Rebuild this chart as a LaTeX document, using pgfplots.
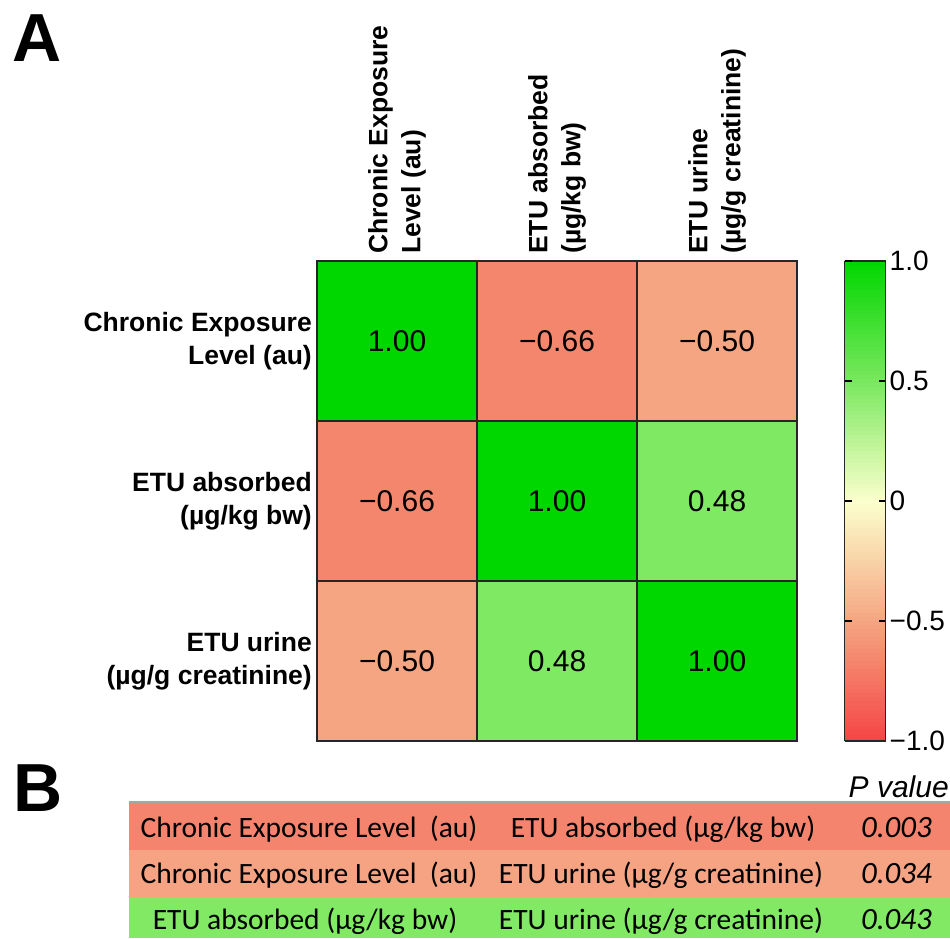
\documentclass[border=0pt]{standalone}
\usepackage{pgfplots}
\pgfplotsset{compat=1.18}
\usepackage{pgfplotstable}
\usepackage{fontspec}
\setmainfont{Liberation Sans}
\newfontfamily\carlito{Carlito}
\definecolor{cneg66}{RGB}{245,132,110}
\definecolor{cneg50}{RGB}{245,163,130}
\definecolor{cpos48}{RGB}{130,233,100}

\pgfplotstableread{
x y c
0 0 1
1 0 -0.66
2 0 -0.50
0 1 -0.66
1 1 1
2 1 0.48
0 2 -0.50
1 2 0.48
2 2 1
}\corrdata

\pgfplotstableread{
x y lab
0 0 1.00
1 0 −0.66
2 0 −0.50
0 1 −0.66
1 1 1.00
2 1 0.48
0 2 −0.50
1 2 0.48
2 2 1.00
}\corrlabels

\begin{document}
\begin{tikzpicture}[x=1pt,y=1pt]
\useasboundingbox (0,0) rectangle (950,-938);
\node[anchor=north west,inner sep=0pt,font=\fontsize{68}{72}\selectfont\bfseries] at (12,-15) {A};
\begin{axis}[
  at={(317pt,-261pt)}, anchor=north west,
  width=480pt, height=480pt, scale only axis,
  xmin=-0.5, xmax=2.5, ymin=-0.5, ymax=2.5,
  y dir=reverse,
  axis on top,
  axis line style={line width=1.5pt, black!85},
  xtick={0,1,2}, ytick={0,1,2},
  minor xtick={0.5,1.5}, minor ytick={0.5,1.5},
  minor grid style={black!85, line width=1.5pt},
  grid=minor,
  major tick length=0pt, minor tick length=0pt,
  xticklabel pos=top,
  xticklabels={{Chronic Exposure\\Level (au)},{ETU absorbed\\(µg/kg bw)},{ETU urine\\(µg/g creatinine)}},
  yticklabels={{Chronic Exposure\\Level (au)},{ETU absorbed\\(µg/kg bw)},{ETU urine\\(µg/g creatinine)}},
  xticklabel style={rotate=90, anchor=west, align=left, inner sep=7pt, font=\fontsize{26.5}{33}\selectfont\bfseries},
  yticklabel style={anchor=east, align=right, inner sep=5pt, font=\fontsize{26.5}{33}\selectfont\bfseries},
  point meta min=-1, point meta max=1,
  colormap={rg}{rgb255=(245,68,68) rgb255=(245,165,130) rgb255=(252,255,205) rgb255=(122,232,95) rgb255=(0,214,0)},
  colorbar sampled,
  colorbar style={
    at={(parent axis.north east)}, anchor=north west, xshift=39pt,
    width=41pt,
    samples=120,
    xmin=0, xmax=1,
    y dir=normal,
    grid=none,
    minor xtick={}, minor ytick={},
    axis line style={line width=1.5pt, black!85},
    ytick={-1,-0.5,0,0.5,1},
    yticklabels={−1.0,−0.5,0,0.5,1.0},
    yticklabel pos=right,
    ytick pos=both,
    tick align=inside,
    major tick length=7pt,
    tick style={black, line width=1.5pt},
    yticklabel style={font=\fontsize{28}{32}\selectfont, inner sep=4pt},
  },
]
\addplot[matrix plot*, mesh/cols=3, point meta=explicit] table[x=x, y=y, meta=c] {\corrdata};
\addplot[only marks, mark=none, point meta=explicit symbolic,
  nodes near coords, nodes near coords align={center},
  nodes near coords style={font=\fontsize{30}{34}\selectfont, anchor=center, text=black}]
  table[x=x, y=y, meta=lab] {\corrlabels};
\end{axis}

% Panel B
\node[anchor=north west,inner sep=0pt,font=\fontsize{68}{72}\selectfont\bfseries] at (13,-765) {B};
\node[anchor=base east,inner sep=0pt,font=\fontsize{30}{32}\selectfont\itshape] at (949,-797) {P value};
\fill[cneg66] (129,-802) rectangle (950,-850);
\fill[cneg50] (129,-850) rectangle (950,-897);
\fill[cpos48] (129,-897) rectangle (950,-938);
\draw[black!35, line width=2.5pt] (129,-802) -- (950,-802);
\begin{scope}[every node/.style={inner sep=0pt, font=\carlito\fontsize{29.5}{32}\selectfont}]
\node[anchor=base] at (309,-837) {Chronic Exposure Level\ \ (au)};
\node[anchor=base] at (663,-837) {ETU absorbed (µg/kg bw)};
\node[anchor=base east] at (932,-837) {\fontsize{31}{32}\selectfont\itshape 0.003};
\node[anchor=base] at (309,-883) {Chronic Exposure Level\ \ (au)};
\node[anchor=base] at (661,-883) {ETU urine (µg/g creatinine)};
\node[anchor=base east] at (932,-883) {\fontsize{31}{32}\selectfont\itshape 0.034};
\node[anchor=base] at (305,-929) {ETU absorbed (µg/kg bw)};
\node[anchor=base] at (661,-929) {ETU urine (µg/g creatinine)};
\node[anchor=base east] at (932,-929) {\fontsize{31}{32}\selectfont\itshape 0.043};
\end{scope}
\end{tikzpicture}
\end{document}
